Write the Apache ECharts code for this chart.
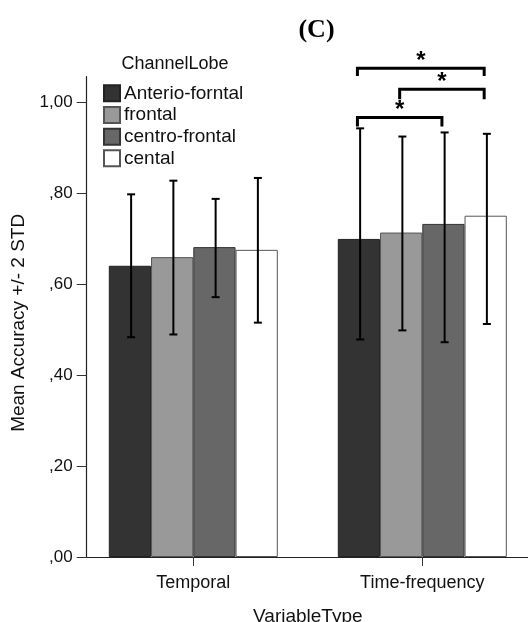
<!DOCTYPE html>
<html>
<head>
<meta charset="utf-8">
<script src="https://cdn.jsdelivr.net/npm/echarts@6/dist/echarts.min.js"></script>
<style>html,body{margin:0;padding:0;background:#fff;}#c{width:528px;height:622px;}</style>
</head>
<body>
<div id="c"></div>
<script>
const categories = ['Temporal', 'Time-frequency'];
const seriesNames = ['Anterio-forntal', 'frontal', 'centro-frontal', 'cental'];
const meanAnterio = [0.640, 0.699];
const meanFrontal = [0.659, 0.713];
const meanCentro = [0.681, 0.732];
const meanCental = [0.675, 0.750];
const lowAnterio = [0.483, 0.478];
const highAnterio = [0.797, 0.942];
const lowFrontal = [0.489, 0.498];
const highFrontal = [0.827, 0.924];
const lowCentro = [0.571, 0.472];
const highCentro = [0.787, 0.933];
const lowCental = [0.515, 0.512];
const highCental = [0.833, 0.930];
const yTickValues = [0, 0.2, 0.4, 0.6, 0.8, 1.0];
const yTickLabels = [',00', ',20', ',40', ',60', ',80', '1,00'];
const bracketCategory = [1, 1, 1];
const bracketFrom = [0, 1, 0];
const bracketTo = [3, 3, 2];
const bracketLevel = [1.074, 1.028, 0.966];
const bracketLegEnd = [1.057, 1.006, 0.946];
const bracketMarks = ['*', '*', '*'];

const Y_MAX = 1.0555;
const BAR_W = 42.25;
const FONT = '"Liberation Sans", Arial, sans-serif';
const colors = ['#333333', '#999999', '#676767', '#ffffff'];
const borders = ['#222222', '#555555', '#333333', '#555555'];

const means = [meanAnterio, meanFrontal, meanCentro, meanCental];
const lows = [lowAnterio, lowFrontal, lowCentro, lowCental];
const highs = [highAnterio, highFrontal, highCentro, highCental];

const errData = [];
for (let s = 0; s < 4; s++) {
  for (let c = 0; c < categories.length; c++) {
    errData.push([c, s, lows[s][c], highs[s][c]]);
  }
}
const bracketData = bracketCategory.map((c, i) => [c, bracketFrom[i], bracketTo[i], bracketLevel[i], bracketLegEnd[i]]);

const barSeries = seriesNames.map((name, s) => ({
  name: name,
  type: 'bar',
  xAxisIndex: 0,
  yAxisIndex: 0,
  barWidth: BAR_W,
  barGap: '0%',
  data: means[s],
  itemStyle: { color: colors[s], borderColor: borders[s], borderWidth: 1 },
  emphasis: { disabled: true },
  z: 2
}));

const chart = echarts.init(document.getElementById('c'), null, { renderer: 'canvas' });
chart.setOption({
  animation: false,
  backgroundColor: '#fff',
  graphic: [
    { type: 'text', x: 316.5, y: 30.5, style: { text: '(C)', font: 'bold 26px "Liberation Serif", "Times New Roman", serif', fill: '#000', align: 'center', verticalAlign: 'middle' } },
    { type: 'text', x: 175, y: 64.5, style: { text: 'ChannelLobe', font: '18px ' + FONT, fill: '#111', align: 'center', verticalAlign: 'middle' } }
  ],
  legend: {
    data: seriesNames,
    orient: 'vertical',
    left: 103,
    top: 83.8,
    padding: 0,
    itemWidth: 16,
    itemHeight: 16,
    itemGap: 2.67,
    icon: 'rect',
    textStyle: { fontFamily: FONT, fontSize: 19, color: '#111', lineHeight: 19, padding: [0, 0, 0, -1] }
  },
  grid: [
    { left: 78.8, width: 458, top: 76.7, bottom: 65, containLabel: false, outerBoundsMode: 'none' },
    { left: 86.7, right: 0, top: 76.7, bottom: 65, containLabel: false, outerBoundsMode: 'none' }
  ],
  xAxis: [
    {
      type: 'category', gridIndex: 0, data: categories,
      axisLine: { show: false },
      axisTick: { show: true, alignWithLabel: true, length: 9, lineStyle: { color: '#333', width: 1 } },
      axisLabel: { fontFamily: FONT, fontSize: 18, color: '#111', margin: 17 },
      name: 'VariableType', nameLocation: 'middle', nameGap: 50,
      nameTextStyle: { fontFamily: FONT, fontSize: 19, color: '#111' }
    },
    {
      type: 'value', gridIndex: 1, min: 0, max: 1,
      axisLine: { show: true, lineStyle: { color: '#222', width: 1.2 } },
      axisTick: { show: false }, axisLabel: { show: false }, splitLine: { show: false }
    }
  ],
  yAxis: [
    { type: 'value', gridIndex: 0, min: 0, max: Y_MAX, show: false, splitLine: { show: false } },
    {
      type: 'value', gridIndex: 1, min: 0, max: Y_MAX,
      axisLine: { show: true, lineStyle: { color: '#222', width: 1.2 } },
      axisTick: { show: true, length: 10, customValues: yTickValues, lineStyle: { color: '#333', width: 1 } },
      axisLabel: {
        customValues: yTickValues, margin: 14,
        fontFamily: FONT, fontSize: 17, color: '#111',
        formatter: function (v) { const i = yTickValues.findIndex(t => Math.abs(t - v) < 1e-6); return i >= 0 ? yTickLabels[i] : ''; }
      },
      splitLine: { show: false },
      name: 'Mean Accuracy +/- 2 STD', nameLocation: 'middle', nameGap: 54,
      nameTextStyle: { fontFamily: FONT, fontSize: 19, color: '#111', padding: [0, 12, 0, 0] }
    }
  ],
  series: barSeries.concat([
    {
      type: 'custom', name: 'err', xAxisIndex: 0, yAxisIndex: 0, clip: false, z: 5,
      encode: { x: 0, y: 2 },
      data: errData,
      silent: true,
      renderItem: function (params, api) {
        const c = api.value(0), s = api.value(1);
        const base = api.coord([c, 0]);
        const x = base[0] + (s - 1.5) * BAR_W + 1.2;
        const yl = api.coord([c, api.value(2)])[1];
        const yh = api.coord([c, api.value(3)])[1];
        const st = { stroke: '#000', lineWidth: 2 };
        return { type: 'group', children: [
          { type: 'line', shape: { x1: x, y1: yl, x2: x, y2: yh }, style: st },
          { type: 'line', shape: { x1: x - 4, y1: yh, x2: x + 4, y2: yh }, style: st },
          { type: 'line', shape: { x1: x - 4, y1: yl, x2: x + 4, y2: yl }, style: st }
        ] };
      }
    },
    {
      type: 'custom', name: 'sig', xAxisIndex: 0, yAxisIndex: 0, clip: false, z: 6,
      encode: { x: 0, y: 3 },
      data: bracketData,
      silent: true,
      renderItem: function (params, api) {
        const c = api.value(0);
        const base = api.coord([c, 0]);
        const x1 = base[0] + (api.value(1) - 1.5) * BAR_W - 1.5;
        const x2 = base[0] + (api.value(2) - 1.5) * BAR_W - 1.5;
        const yv = api.coord([c, api.value(3)])[1];
        const ye = api.coord([c, api.value(4)])[1];
        return { type: 'group', children: [
          { type: 'polyline', shape: { points: [[x1, ye], [x1, yv], [x2, yv], [x2, ye]] }, style: { stroke: '#000', lineWidth: 3, fill: null } },
          { type: 'text', x: (x1 + x2) / 2, y: yv + 5, style: { text: bracketMarks[params.dataIndex], font: 'bold 24px ' + FONT, fill: '#000', align: 'center', verticalAlign: 'bottom' } }
        ] };
      }
    }
  ])
});
</script>
</body>
</html>
